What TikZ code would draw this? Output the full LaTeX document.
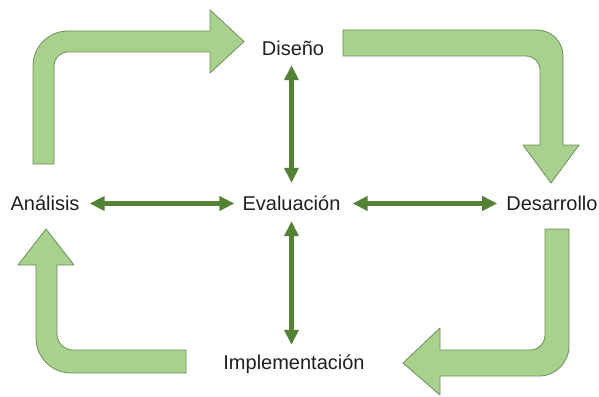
\documentclass[tikz,border=0pt]{standalone}
\usepackage{fontspec}
\setmainfont{Liberation Sans}
\usetikzlibrary{arrows.meta}
\definecolor{blockfill}{HTML}{A9D18E}
\definecolor{blockline}{HTML}{6B8F57}
\definecolor{dblgreen}{HTML}{548235}
\begin{document}
\begin{tikzpicture}[x=1pt,y=-1pt,
  blockarrow/.style={fill=blockfill,draw=blockline,line width=0.8pt,line join=round},
  label/.style={inner sep=0pt,text height=14pt,text depth=0pt,anchor=base,font=\fontsize{20}{24}\selectfont,text=black!88},
  dbl/.style={draw=dblgreen,line width=4.3pt,{Triangle[length=15pt,width=14pt]}-{Triangle[length=15pt,width=14pt]}}]
\useasboundingbox (0,0) rectangle (599,396);
% labels
\node[label] (dis) at (293,55.5) {Diseño};
\node[label] (ana) at (45,210.5) {Análisis};
\node[label] (eva) at (291.5,210.5) {Evaluación};
\node[label] (des) at (552,210.5) {Desarrollo};
\node[label] (imp) at (294,369) {Implementación};
% block arrows
\path[blockarrow] (33,164) -- (33,66) arc[start angle=180,end angle=270,radius=35]
  -- (210,31) -- (210,10) -- (244,41.5) -- (210,73) -- (210,52) -- (68,52)
  arc[start angle=270,end angle=180,radius=14] -- (54,164) -- cycle;
\path[blockarrow] (343,30) -- (537,30) arc[start angle=-90,end angle=0,radius=26]
  -- (563,145) -- (579,145) -- (551,183) -- (523,145) -- (540,145) -- (540,70)
  arc[start angle=0,end angle=-90,radius=14] -- (343,56) -- cycle;
\path[blockarrow] (569,229) -- (569,346) arc[start angle=0,end angle=90,radius=30]
  -- (440,376) -- (440,395) -- (403,363) -- (440,328) -- (440,350) -- (530,350)
  arc[start angle=90,end angle=0,radius=15] -- (545,229) -- cycle;
\path[blockarrow] (186,350) -- (73,350) arc[start angle=90,end angle=180,radius=16]
  -- (57,265) -- (74,265) -- (46,229) -- (18,265) -- (36,265) -- (36,338)
  arc[start angle=180,end angle=90,radius=35] -- (186,373) -- cycle;
% double arrows
\draw[dbl,shorten <=9.5pt,shorten >=13.5pt] (eva.north |- dis.south) -- (eva.north);
\draw[dbl,shorten <=10.5pt,shorten >=10pt] (eva.south) -- (eva.south |- imp.north);
\draw[dbl,shorten <=10pt,shorten >=8pt] (ana.east) -- (eva.west);
\draw[dbl,shorten <=12pt,shorten >=9pt] (eva.east) -- (des.west);
\end{tikzpicture}
\end{document}
